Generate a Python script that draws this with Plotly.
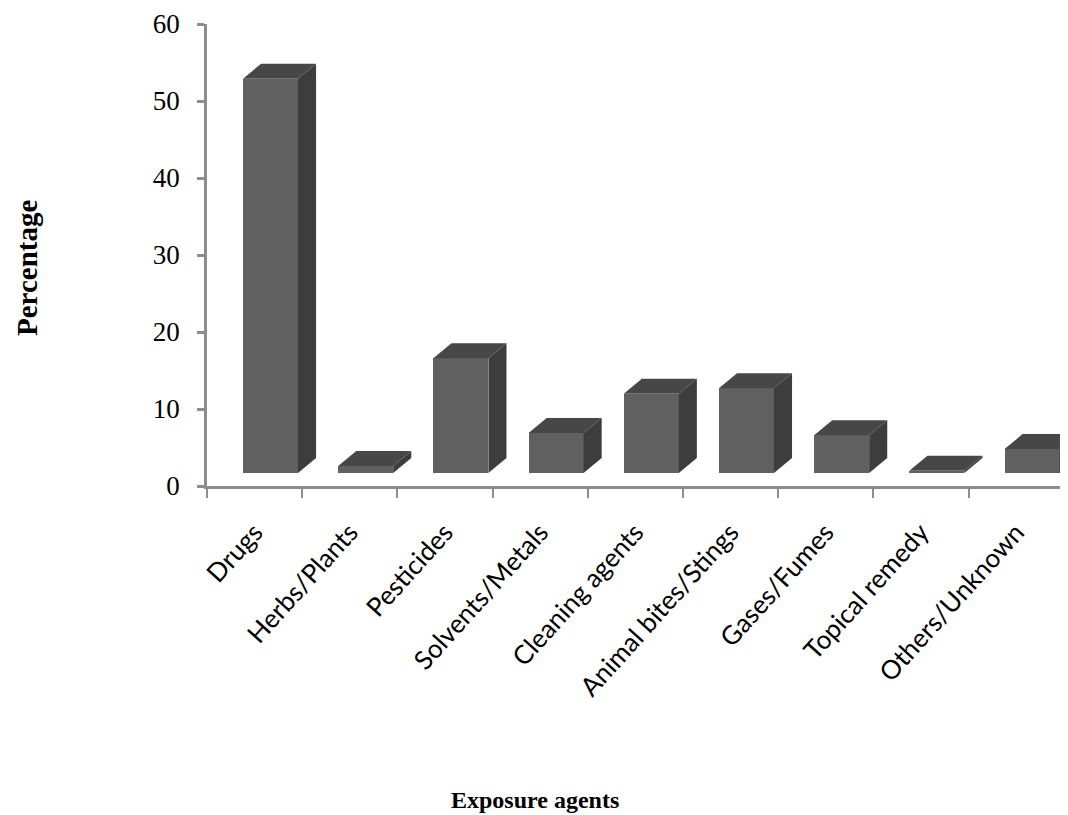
import plotly.graph_objects as go

categories = ["Drugs", "Herbs/Plants", "Pesticides", "Solvents/Metals", "Cleaning agents",
              "Animal bites/Stings", "Gases/Fumes", "Topical remedy", "Others/Unknown"]
percentages = [51.2, 0.9, 14.9, 5.2, 10.3, 11.0, 4.9, 0.3, 3.1]
y_ticks = [0, 10, 20, 30, 40, 50, 60]

# 3D look parameters (style, in axis units)
FLOOR = 1.69      # lift of the bar base above the axis line
BAR_OFFSET = -0.122
BAR_WIDTH = 0.578
DEPTH_X = 0.19
DEPTH_Y = 1.95

FRONT = "#606060"
SIDE = "#3d3d3d"
TOP = "#474747"
AXIS = "#8c8c8c"

fig = go.Figure()

xs = list(range(len(categories)))

# side and top faces (drawn behind the front face)
for i, v in zip(xs, percentages):
    xl = i + BAR_OFFSET
    xr = xl + BAR_WIDTH
    b = FLOOR
    t = FLOOR + v
    fig.add_trace(go.Scatter(
        x=[xr, xr + DEPTH_X, xr + DEPTH_X, xr, xr],
        y=[b, b + DEPTH_Y, t + DEPTH_Y, t, b],
        fill="toself", fillcolor=SIDE, mode="lines", line=dict(width=0),
        hoverinfo="skip", showlegend=False))
    fig.add_trace(go.Scatter(
        x=[xl, xl + DEPTH_X, xr + DEPTH_X, xr, xl],
        y=[t, t + DEPTH_Y, t + DEPTH_Y, t, t],
        fill="toself", fillcolor=TOP, mode="lines", line=dict(width=0),
        hoverinfo="skip", showlegend=False))

# front faces
fig.add_trace(go.Bar(
    x=xs, y=percentages, base=FLOOR, width=BAR_WIDTH, offset=BAR_OFFSET,
    marker=dict(color=FRONT, line=dict(width=0)), showlegend=False,
    hovertemplate="%{customdata}: %{y}<extra></extra>", customdata=categories))

boundaries = [i - 0.5 for i in range(len(categories) + 1)]

# page has an 8px body margin; the figure is sized so the plot lands where the reference has it
fig.update_layout(
    width=1060, height=807,
    margin=dict(l=199, r=0, t=16, b=329),
    paper_bgcolor="white", plot_bgcolor="white",
    bargap=0,
    xaxis=dict(
        range=[-0.5, len(categories) - 0.5 + 0.045],
        tickmode="array", tickvals=xs, ticktext=categories,
        ticks="", tickangle=-48,
        tickfont=dict(family="Lato", size=26, color="#000000"),
        ticklabelstandoff=18,
        showgrid=False, zeroline=False,
        showline=True, linecolor=AXIS, linewidth=2.5,
        minor=dict(tickmode="array", tickvals=boundaries, ticks="outside",
                   ticklen=9, tickwidth=2, tickcolor=AXIS),
        fixedrange=True,
    ),
    yaxis=dict(
        range=[0, 60],
        tickmode="array", tickvals=y_ticks,
        ticks="outside", ticklen=7, tickwidth=2.5, tickcolor=AXIS,
        tickfont=dict(family="Liberation Serif", size=27, color="#000000"),
        ticklabelstandoff=12,
        showgrid=False, zeroline=False,
        showline=True, linecolor=AXIS, linewidth=2.5,
        fixedrange=True,
    ),
    annotations=[
        dict(text="<b>Percentage</b>", xref="paper", yref="paper",
             x=(27 - 207) / 861, y=1 - (268 - 24) / 462, textangle=-90,
             showarrow=False, xanchor="center", yanchor="middle",
             font=dict(family="Liberation Serif", size=29, color="#000000")),
        dict(text="<b>Exposure agents</b>", xref="paper", yref="paper",
             x=(535 - 207) / 861, y=-(800 - 486) / 462,
             showarrow=False, xanchor="center", yanchor="middle",
             font=dict(family="Liberation Serif", size=24, color="#000000")),
    ],
)

fig.write_html("out.html")
